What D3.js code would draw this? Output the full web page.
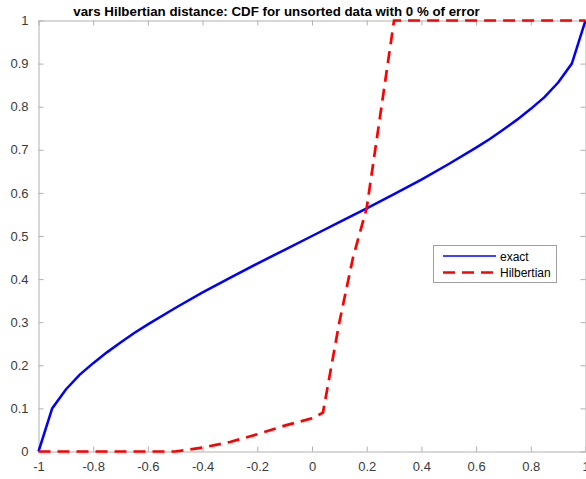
<!DOCTYPE html>
<html>
<head>
<meta charset="utf-8">
<script src="https://cdn.jsdelivr.net/npm/d3@7"></script>
<style>
  html, body { margin: 0; padding: 0; background: #fff; }
  svg { display: block; }
  text { font-family: "Liberation Sans", Arial, sans-serif; }
</style>
</head>
<body>
<svg id="chart" width="586" height="479"></svg>
<script>
const titleText = "vars Hilbertian distance: CDF for unsorted data with 0 % of error";
const xTicks = [-1, -0.8, -0.6, -0.4, -0.2, 0, 0.2, 0.4, 0.6, 0.8, 1];
const yTicks = [0, 0.1, 0.2, 0.3, 0.4, 0.5, 0.6, 0.7, 0.8, 0.9, 1];
const seriesNames = ["exact", "Hilbertian"];

const exactX = [-1, -0.95, -0.9, -0.85, -0.8, -0.75, -0.7, -0.65, -0.6, -0.5, -0.4, -0.3, -0.2, -0.1, 0,
                0.1, 0.2, 0.3, 0.4, 0.5, 0.6, 0.65, 0.7, 0.75, 0.8, 0.85, 0.9, 0.95, 1];
const exactY = [0, 0.100, 0.144, 0.178, 0.205, 0.230, 0.253, 0.275, 0.295, 0.333, 0.369, 0.403, 0.436, 0.468, 0.5,
                0.532, 0.564, 0.597, 0.631, 0.667, 0.705, 0.725, 0.747, 0.770, 0.795, 0.822, 0.856, 0.900, 1];

const hilbX = [-1, -0.5, -0.4, -0.3, -0.2, -0.1, 0, 0.04, 0.1, 0.15, 0.2, 0.3, 1];
const hilbY = [0, 0, 0.009, 0.022, 0.04, 0.06, 0.077, 0.09, 0.3, 0.45, 0.565, 1, 1];

const svg = d3.select("#chart");
const L = 38.5, R = 585.5, T = 20.5, B = 451.5;

const x = d3.scaleLinear().domain([-1, 1]).range([L, R]);
const y = d3.scaleLinear().domain([0, 1]).range([B, T]);

const axisColor = "#b0b0b0";
const labelColor = "#3a3a3a";
const fmt = d => String(d);

// axes
const gx = svg.append("g").attr("transform", `translate(0,${B})`)
  .call(d3.axisBottom(x).tickValues(xTicks).tickSizeInner(-5).tickSizeOuter(0).tickPadding(10).tickFormat(fmt));
const gxt = svg.append("g").attr("transform", `translate(0,${T})`)
  .call(d3.axisTop(x).tickValues(xTicks).tickSizeInner(-5).tickSizeOuter(0).tickFormat(""));
const gy = svg.append("g").attr("transform", `translate(${L},0)`)
  .call(d3.axisLeft(y).tickValues(yTicks).tickSizeInner(-5).tickSizeOuter(0).tickPadding(10).tickFormat(fmt));
const gyr = svg.append("g").attr("transform", `translate(${R},0)`)
  .call(d3.axisRight(y).tickValues(yTicks).tickSizeInner(-5).tickSizeOuter(0).tickFormat(""));

[gx, gxt, gy, gyr].forEach(g => {
  g.select(".domain").attr("stroke", axisColor).attr("stroke-width", 1);
  g.selectAll(".tick line").attr("stroke", axisColor).attr("stroke-width", 1);
  g.selectAll(".tick text").attr("fill", labelColor).style("font-size", "13px")
   .style("font-family", "'Liberation Sans', Arial, sans-serif");
});

// lines
const line = d3.line().x(d => x(d[0])).y(d => y(d[1]));
const exactData = exactX.map((v, i) => [v, exactY[i]]);
const hilbData = hilbX.map((v, i) => [v, hilbY[i]]);

svg.append("path").datum(exactData).attr("d", line)
  .attr("fill", "none").attr("stroke", "#0000ff").attr("stroke-width", 2.5);
svg.append("path").datum(hilbData).attr("d", line)
  .attr("fill", "none").attr("stroke", "#ff0000").attr("stroke-width", 2.7)
  .attr("stroke-dasharray", "12,7");

// title
svg.append("text").attr("x", 276.5).attr("y", 16).attr("text-anchor", "middle")
  .style("font-size", "13.3px").style("font-weight", "bold").attr("fill", "#000")
  .text(titleText);

// legend
const lg = svg.append("g");
lg.append("rect").attr("x", 433.5).attr("y", 245.5).attr("width", 123).attr("height", 37)
  .attr("fill", "#fff").attr("stroke", "#a0a0a0").attr("stroke-width", 1);
const legendColors = ["#0000ff", "#ff0000"];
const legendDash = [null, "12,7"];
seriesNames.forEach((n, i) => {
  const yy = 256 + i * 16.5;
  lg.append("line").attr("x1", 443).attr("x2", 496).attr("y1", yy).attr("y2", yy)
    .attr("stroke", legendColors[i]).attr("stroke-width", i === 0 ? 1.5 : 2.5)
    .attr("stroke-dasharray", legendDash[i]);
  lg.append("text").attr("x", 500).attr("y", yy + 4.5).style("font-size", "12px")
    .attr("fill", "#000").text(n);
});
</script>
</body>
</html>
